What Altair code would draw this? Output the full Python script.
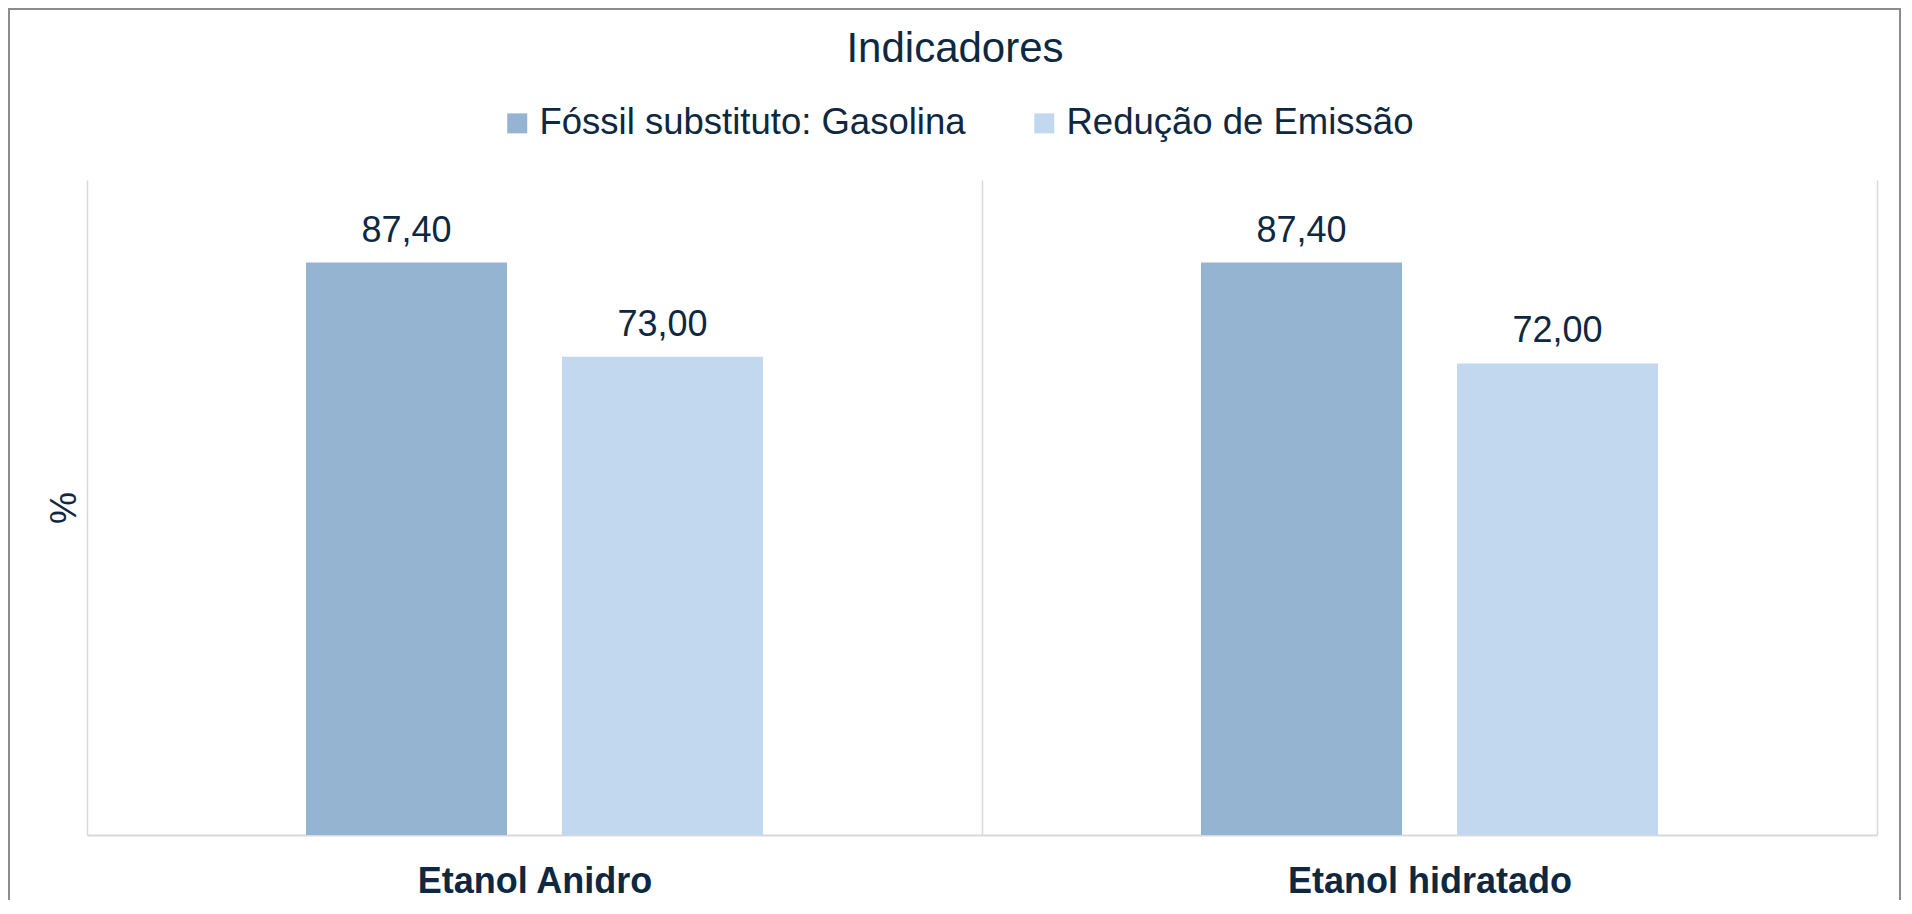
import altair as alt
import pandas as pd

categorias = ["Etanol Anidro", "Etanol hidratado"]
series = ["Fóssil substituto: Gasolina", "Redução de Emissão"]
fossil = [87.40, 87.40]
reducao = [73.00, 72.00]
cores = ["#94B4D1", "#C2D8EE"]

rows = []
for i, c in enumerate(categorias):
    rows.append({"categoria": c, "serie": series[0], "valor": fossil[i]})
    rows.append({"categoria": c, "serie": series[1], "valor": reducao[i]})
df = pd.DataFrame(rows)

TXT = "#0E2841"
FONT = "Liberation Sans"
GRID = "#D9D9D9"

x = alt.X(
    "categoria:N", sort=categorias, title=None,
    scale=alt.Scale(paddingInner=0, paddingOuter=0),
    axis=alt.Axis(labelAngle=0, labelFont=FONT, labelFontSize=36, labelFontWeight="bold",
                  labelColor=TXT, labelBaseline="alphabetic", labelPadding=57, labelLimit=0,
                  ticks=False, tickSize=0, domainColor=GRID, domainWidth=2,
                  grid=True, gridColor=GRID, gridWidth=1.5, tickBand="extent"),
)
xoff = alt.XOffset("serie:N", sort=series,
                   scale=alt.Scale(paddingInner=0.2148, paddingOuter=0.8555))
y = alt.Y(
    "valor:Q", scale=alt.Scale(domain=[0, 100]),
    axis=alt.Axis(title="%", labels=False, ticks=False, tickSize=0, domain=False, grid=False,
                  titleFont=FONT, titleFontSize=36, titleFontWeight="normal", titleColor=TXT,
                  titleAngle=270, titleX=-12, titleY=327.5, titleAlign="center",
                  titleBaseline="alphabetic"),
)

base = alt.Chart(df).transform_calculate(
    rotulo="replace(format(datum.valor, '.2f'), '.', ',')"
).encode(x=x, xOffset=xoff, y=y)

bars = base.mark_bar().encode(
    color=alt.Color(
        "serie:N", sort=series, scale=alt.Scale(domain=series, range=cores),
        legend=alt.Legend(title=None, orient="none", legendX=412, legendY=-75,
                          direction="horizontal", symbolType="square", symbolSize=400,
                          symbolStrokeWidth=0, labelFont=FONT, labelFontSize=36.5,
                          labelColor=TXT, labelOffset=4, columnPadding=60, labelLimit=0),
    )
)

labels = base.mark_text(baseline="alphabetic", dy=-21, font=FONT, fontSize=36,
                        color=TXT).encode(text="rotulo:N")

frame = alt.Chart(pd.DataFrame({"k": [0]})).mark_rect(
    fill="transparent", stroke="#8C8C8C", strokeWidth=2
).encode(x=alt.value(-78), x2=alt.value(1813), y=alt.value(-171), y2=alt.value(745))

chart = alt.layer(frame, bars, labels).properties(
    width=1790, height=655,
    autosize=alt.AutoSizeParams(type="none"),
    padding={"left": 79, "top": 172, "right": 25, "bottom": 65},
    title=alt.Title("Indicadores", font=FONT, fontSize=42, fontWeight="normal", color=TXT,
                    anchor="middle", frame="group", dx=-27, offset=-96,
                    baseline="alphabetic"),
    background="white",
).configure_view(stroke=None)

chart.save("out.html", embed_options={"renderer": "svg", "actions": False})
